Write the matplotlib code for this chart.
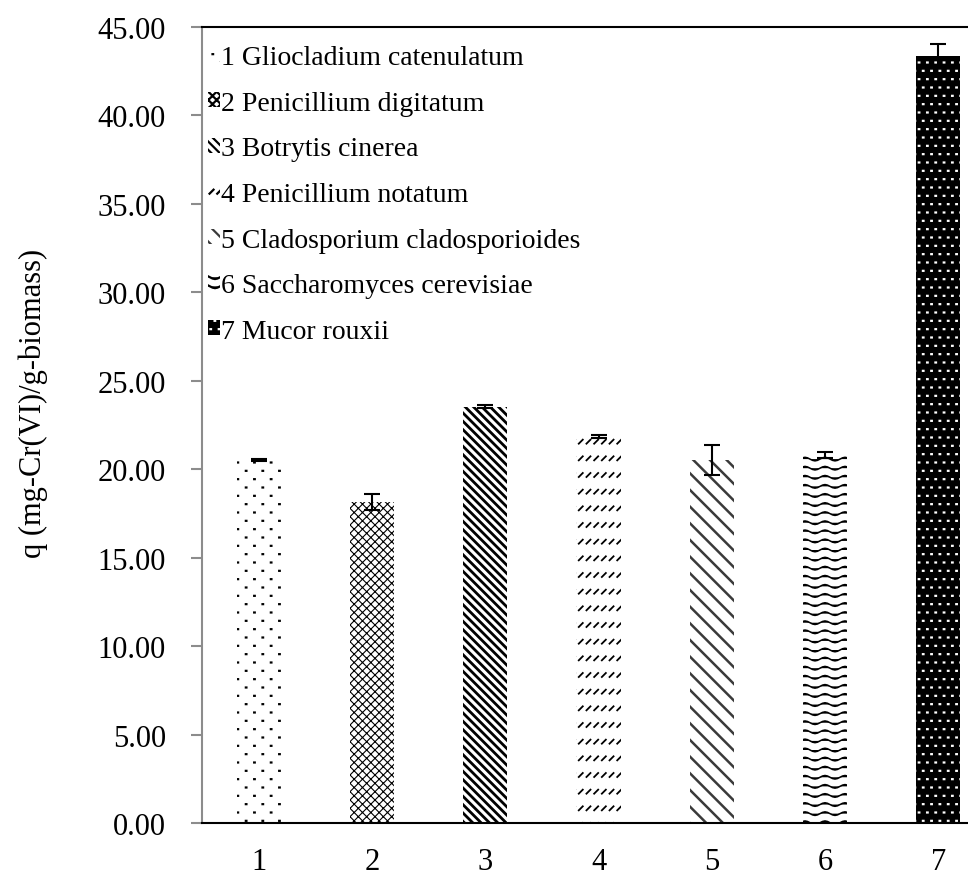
import matplotlib
matplotlib.use("Agg")
import matplotlib.pyplot as plt
import matplotlib.hatch as mhatch
from matplotlib.path import Path
import numpy as np

categories = ["1", "2", "3", "4", "5", "6", "7"]
species = ["1 Gliocladium catenulatum", "2 Penicillium digitatum", "3 Botrytis cinerea",
           "4 Penicillium notatum", "5 Cladosporium cladosporioides",
           "6 Saccharomyces cerevisiae", "7 Mucor rouxii"]
values = [20.55, 18.15, 23.55, 21.85, 20.54, 20.80, 43.36]
errors = [0.05, 0.44, 0.08, 0.10, 0.86, 0.17, 0.66]
yticks = [0, 5, 10, 15, 20, 25, 30, 35, 40, 45]


# ---- custom hatch patterns imitating the Excel pattern fills ----
class DotHatch(mhatch.HatchPatternBase):
    """staggered small dots, keyed on '.'"""
    def __init__(self, hatch, density):
        n = hatch.count('.')
        self.rows = 12 if n else 0
        self.cols = 6 * n
        self.num_vertices = self.rows * self.cols * 2

    def set_vertices_and_codes(self, v, c):
        k = 0
        for r in range(self.rows):
            y = (r + 0.5) / self.rows
            shift = 0.5 / self.cols if r % 2 else 0.0
            for j in range(self.cols):
                x = (j + 0.25) / self.cols + shift
                v[k] = (x, y)
                v[k + 1] = (x + 0.006, y)
                c[k] = Path.MOVETO
                c[k + 1] = Path.LINETO
                k += 2


class DashSlashHatch(mhatch.HatchPatternBase):
    """rows of short '/' dashes, keyed on '-'"""
    def __init__(self, hatch, density):
        n = hatch.count('-')
        self.rows = 6 * n
        self.cols = 13 * n
        self.num_vertices = self.rows * self.cols * 2

    def set_vertices_and_codes(self, v, c):
        k = 0
        for r in range(self.rows):
            y = (r + 0.5) / self.rows
            for j in range(self.cols):
                x = (j + 0.5) / self.cols
                v[k] = (x - 0.02, y - 0.02)
                v[k + 1] = (x + 0.02, y + 0.02)
                c[k] = Path.MOVETO
                c[k + 1] = Path.LINETO
                k += 2


class WaveHatch(mhatch.HatchPatternBase):
    """rows of small waves, keyed on '|'"""
    npts = 41

    def __init__(self, hatch, density):
        n = hatch.count('|')
        self.rows = 11 * n
        self.num_vertices = self.rows * self.npts

    def set_vertices_and_codes(self, v, c):
        xs = np.linspace(0, 1, self.npts)
        k = 0
        for r in range(self.rows):
            y = (r + 0.5) / self.rows
            v[k:k + self.npts, 0] = xs
            v[k:k + self.npts, 1] = y + 0.018 * np.sin(2 * np.pi * 5 * xs)
            c[k] = Path.MOVETO
            c[k + 1:k + self.npts] = Path.LINETO
            k += self.npts


mhatch._hatch_types = [mhatch.NorthEastHatch, mhatch.SouthEastHatch,
                       DotHatch, DashSlashHatch, WaveHatch]

hatches = ['.', 'xxxx', '\\\\\\\\', '-', '\\\\', '|', '..']
faces = ['white', 'white', 'white', 'white', 'white', 'white', 'black']
hcols = ['black', 'black', 'black', 'black', '#3a3a3a', 'black', 'white']
hlw = [1.6, 0.8, 2.0, 1.3, 1.8, 1.1, 1.6]

plt.rcParams['font.family'] = ['Liberation Serif', 'DejaVu Serif']

fig = plt.figure(figsize=(9.68, 8.78), dpi=100)
ax = fig.add_axes([202/968, (878-824.3)/878, 793/968, 796.3/878])

x = np.arange(1, len(categories) + 1)
for i in range(len(categories)):
    plt.rcParams['hatch.linewidth'] = hlw[i]
    b = ax.bar(x[i], values[i], width=0.39, color=faces[i], edgecolor=hcols[i],
               hatch=hatches[i], linewidth=0, label=species[i], zorder=2)
    for p in b:
        if hasattr(p, 'set_hatch_linewidth'):
            p.set_hatch_linewidth(hlw[i])
    ax.errorbar(x[i], values[i], yerr=errors[i], fmt='none', ecolor='black',
                elinewidth=1.5, capsize=6, capthick=1.5, zorder=3)

ax.set_xlim(0.5, 7.5)
ax.set_ylim(0, 45)
ax.set_yticks(yticks)
ax.set_yticklabels([f"{t:.2f}" for t in yticks], fontsize=22)
ax.set_xticks(x)
ax.set_xticklabels(categories, fontsize=22)
ax.tick_params(axis='x', length=0, pad=17)
ax.tick_params(axis='y', length=8, width=1.5, color='#8c8c8c', direction='out', pad=18)

ax.spines['left'].set_color('#8c8c8c')
ax.spines['left'].set_linewidth(1.5)
ax.spines['bottom'].set_color('black')
ax.spines['bottom'].set_linewidth(1.5)
ax.spines['top'].set_color('black')
ax.spines['top'].set_linewidth(1.5)
ax.spines['right'].set_visible(False)

ax.set_ylabel("q (mg-Cr(VI)/g-biomass)", fontsize=22)
ax.yaxis.set_label_coords(-0.194, 0.529)

leg = ax.legend(loc='upper left', frameon=False, fontsize=20, handlelength=0.45,
                handleheight=0.45, handletextpad=0.05, labelspacing=0.74,
                borderpad=0.2, borderaxespad=0.0, bbox_to_anchor=(0.0, 0.984))

fig.savefig("out.png", dpi=100)
